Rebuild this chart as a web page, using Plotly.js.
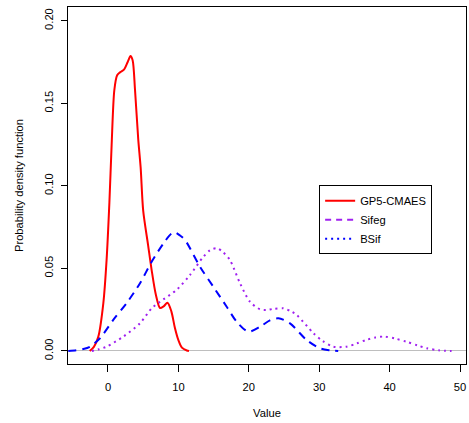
<!DOCTYPE html>
<html>
<head>
<meta charset="utf-8">
<script src="https://cdn.plot.ly/plotly-3.0.1.min.js"></script>
<style>html,body{margin:0;padding:0;background:#fff;}#chart{width:469px;height:423px;}</style>
</head>
<body>
<div id="chart"></div>
<script>
// Red solid curve (GP5-CMAES)
const gpX = [-2.6,-2.0,-1.37,-0.66,-0.2,0.2,0.52,0.9,1.3,1.7,2.3,2.8,3.2,3.5,3.84,4.3,4.64,5.0,5.7,6.2,6.8,7.39,7.9,8.45,9.0,9.5,10.0,10.5,11.2,11.5];
const gpY = [0,0.0025,0.0087,0.029,0.055,0.09,0.125,0.158,0.167,0.1687,0.1705,0.175,0.1786,0.176,0.158,0.128,0.111,0.085,0.064,0.049,0.034,0.026,0.027,0.0292,0.024,0.014,0.0065,0.002,0.0003,0];

// Blue dashed curve
const blueX = [-5.64,-4.5,-3.5,-2.56,-1.14,0.75,2.65,4.55,6.2,7.86,9.0,9.52,10.2,10.94,13.07,14.96,16.86,18.28,19.93,21.6,23.0,24.2,25.85,28.2,30.1,31.5,32.7];
const blueY = [0,0.0005,0.0012,0.0026,0.0077,0.0188,0.029,0.041,0.054,0.065,0.071,0.0718,0.070,0.0672,0.051,0.0389,0.0268,0.0177,0.0117,0.0147,0.0185,0.0198,0.0167,0.0067,0.0016,0.0004,0];

// Purple dotted curve
const purpleX = [-2.3,-1.3,-0.2,2.18,4.55,6.2,7.39,9.75,11.65,13.54,14.5,15.44,16.3,17.33,18.75,20.17,21.6,22.5,23.5,24.9,26.0,26.8,29.2,30.5,32.0,33.9,35.3,36.7,38.0,39.3,40.8,42.4,44.0,45.3,47.0,48.8];
const purpleY = [0,0.001,0.0026,0.0087,0.0168,0.0258,0.0298,0.037,0.046,0.057,0.061,0.0622,0.060,0.055,0.041,0.0298,0.0252,0.0248,0.0255,0.0258,0.024,0.0218,0.0107,0.006,0.0026,0.0026,0.0045,0.0067,0.0082,0.0087,0.0075,0.0056,0.0033,0.0016,0.0004,0];

// Legend entries (as drawn in the reference legend)
const legendNames = ['GP5-CMAES','Sifeg','BSif'];
const legendColors = ['#FF0000','#A020F0','#0000FF'];
const legendDash = ['solid','6px,5px','2px,4px'];

const xTicks = [0,10,20,30,40,50];
const yTicks = [0,0.05,0.10,0.15,0.20];

const FONT = 'Liberation Sans, Arial, Helvetica, sans-serif';

const traces = [
  {x: gpX, y: gpY, mode:'lines', showlegend:false, hoverinfo:'skip',
   line:{color:'#FF0000', width:2, shape:'spline', smoothing:0.8}},
  {x: blueX, y: blueY, mode:'lines', showlegend:false, hoverinfo:'skip',
   line:{color:'#0000FF', width:2, dash:'8px,6px', shape:'spline', smoothing:0.8}},
  {x: purpleX, y: purpleY, mode:'lines', showlegend:false, hoverinfo:'skip',
   line:{color:'#A020F0', width:2, dash:'2px,4px', shape:'spline', smoothing:0.8}}
];
legendNames.forEach((n,i)=>{
  traces.push({x:[null], y:[null], mode:'lines', name:n,
    line:{color:legendColors[i], width:2, dash: legendDash[i]}});
});

const layout = {
  width:469, height:423,
  margin:{l:68, r:3, t:7, b:59},
  paper_bgcolor:'#fff', plot_bgcolor:'#fff',
  font:{family:FONT, size:11.2, color:'#000'},
  showlegend:true,
  legend:{x:0.631, y:0.501, xanchor:'left', yanchor:'top', bgcolor:'#fff',
          bordercolor:'#000', borderwidth:1, font:{family:FONT, size:11.2, color:'#000'}},
  xaxis:{range:[-5.68,50.85], tickvals:xTicks, ticktext:xTicks.map(String),
         showline:true, mirror:true, linecolor:'#000', linewidth:1,
         ticks:'outside', ticklen:7, tickcolor:'#000', tickwidth:1, ticklabelstandoff:6,
         showgrid:false, zeroline:false, automargin:false,
         title:{text:'Value', standoff:16, font:{family:FONT, size:11.2}}},
  yaxis:{range:[-0.0079,0.2083], tickvals:yTicks, tickformat:'.2f', tickangle:-90,
         showline:true, mirror:true, linecolor:'#000', linewidth:1,
         ticks:'outside', ticklen:6, tickcolor:'#000', tickwidth:1, ticklabelstandoff:4,
         showgrid:false, zeroline:true, zerolinecolor:'#BEBEBE', zerolinewidth:1, automargin:false,
         title:{text:'Probability density function', standoff:16, font:{family:FONT, size:11.2}}}
};

Plotly.newPlot('chart', traces, layout, {displayModeBar:false, staticPlot:true});
</script>
</body>
</html>
